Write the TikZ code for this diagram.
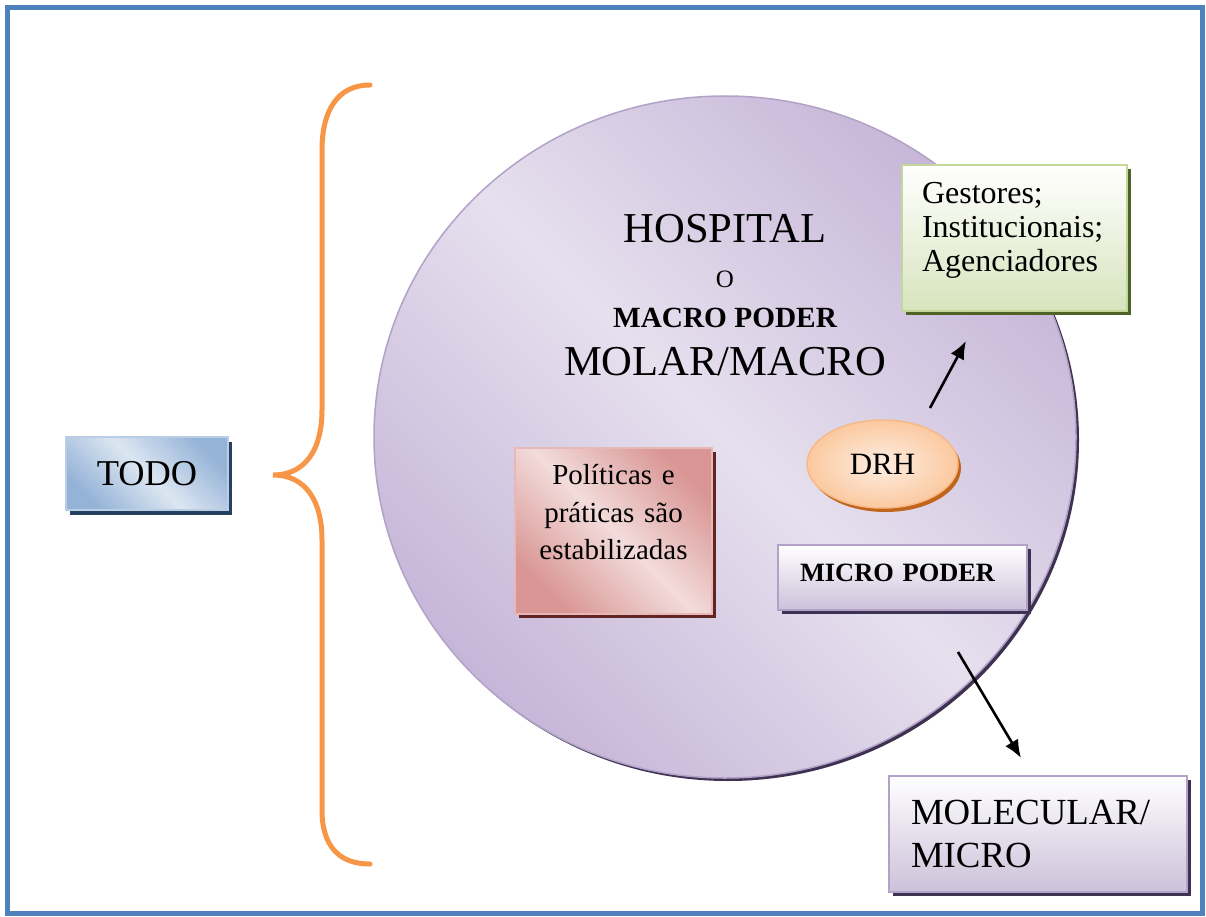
\documentclass[tikz,border=0pt]{standalone}
\usepackage{fontspec}
\setmainfont{Liberation Serif}
\usepackage{xcolor}
\usepackage{tikz}
\usetikzlibrary{shapes,shapes.geometric,shadows}
\usetikzlibrary{calc,arrows,arrows.meta,positioning}
\definecolor{frameblue}{HTML}{4F81BD}
\definecolor{braceor}{HTML}{F79646}
\definecolor{hospdark}{HTML}{C6B6D8}
\definecolor{hosplight}{HTML}{E6E0EE}
\definecolor{hospline}{HTML}{B3A2C7}
\definecolor{purpshad}{HTML}{3F3151}
\definecolor{tododark}{HTML}{95B3D7}
\definecolor{todolight}{HTML}{DCE6F2}
\definecolor{todoline}{HTML}{B9CDE5}
\definecolor{todoshad}{HTML}{254061}
\definecolor{gestfill}{HTML}{D7E4BD}
\definecolor{gestline}{HTML}{C3D69B}
\definecolor{gestshad}{HTML}{4F6228}
\definecolor{drhfill}{HTML}{FBC9A0}
\definecolor{drhlight}{HTML}{FEEEE2}
\definecolor{drhline}{HTML}{F8B986}
\definecolor{drhshad}{HTML}{C0651B}
\definecolor{poldark}{HTML}{D99694}
\definecolor{pollight}{HTML}{F2DCDB}
\definecolor{polline}{HTML}{E6B9B8}
\definecolor{polshad}{HTML}{632523}
\definecolor{microfill}{HTML}{CCC1DA}
\newcommand{\fsz}[2]{\fontsize{#1pt}{#2pt}\selectfont}
\newcommand{\dn}[1]{\rule[-#1pt]{0pt}{0pt}}
\tikzset{
  frame/.style={draw=frameblue, line width=5pt},
  brace/.style={draw=braceor, line width=5pt, line cap=round},
  arr/.style={-{Latex[length=18pt,width=15pt]}, line width=2.6pt},
  sbox/.style={rectangle, inner sep=0pt, line width=2pt},
  hosp_c/.style={ellipse, inner sep=0pt, draw=hospline, line width=1.5pt,
    minimum width=702pt, minimum height=682pt,
    left color=hospdark, right color=hospdark, middle color=hosplight, shading angle=135,
    drop shadow={shadow xshift=3pt, shadow yshift=-3pt, fill=purpshad, opacity=1}},
  todo_n/.style={sbox, draw=todoline, minimum width=162pt, minimum height=73pt,
    left color=tododark, right color=tododark, middle color=todolight, shading angle=135,
    drop shadow={shadow xshift=4pt, shadow yshift=-5pt, fill=todoshad, opacity=1},
    font=\fsz{36.4}{40}},
  gest_n/.style={sbox, draw=gestline, minimum width=225pt, minimum height=146pt,
    text width=185pt, align=left, top color=white, bottom color=gestfill,
    drop shadow={shadow xshift=4pt, shadow yshift=-4pt, fill=gestshad, opacity=1},
    font=\fsz{32}{34}},
  drh_n/.style={ellipse, inner sep=0pt, draw=drhline, line width=1.5pt,
    minimum width=151pt, minimum height=88pt, inner color=drhlight, outer color=drhfill,
    drop shadow={shadow xshift=3pt, shadow yshift=-4pt, fill=drhshad, opacity=1},
    font=\fsz{31}{34}},
  pol_n/.style={sbox, draw=polline, minimum width=197pt, minimum height=166pt,
    text width=197pt, align=center,
    left color=poldark, right color=poldark, middle color=pollight, shading angle=135,
    drop shadow={shadow xshift=4pt, shadow yshift=-4pt, fill=polshad, opacity=1},
    font=\fsz{29}{37.5}},
  micro_n/.style={sbox, draw=hospline, top color=white, bottom color=microfill,
    drop shadow={shadow xshift=4pt, shadow yshift=-4pt, fill=purpshad, opacity=1}},
  lab/.style={inner sep=0pt, anchor=base}
}
\begin{document}
\begin{tikzpicture}[x=1pt,y=-1pt]
\useasboundingbox (0,0) rectangle (1206,917);
\fill[white] (0,0) rectangle (1206,917);
\draw[frame] (7.5,8) rectangle (1202.5,913);
% brace round the whole
\draw[brace] (370,85) .. controls (338,85) and (322,110) .. (322,150) -- (322,410)
  .. controls (322,450) and (305,475) .. (273,475)
  .. controls (305,475) and (322,500) .. (322,540) -- (322,810)
  .. controls (322,845) and (338,864) .. (370,864);
\node[todo_n] (todo) at (147,473.5) {TODO};
% the hospital
\node[hosp_c] (hosp) at (725,437) {};
\node[lab, font=\fsz{42.6}{46}] (hosp_t) at (725,243) {HOSPITAL};
\node[lab, font=\fsz{25}{28}] (o_t) at (725,287) {O};
\node[lab, font=\fsz{29.3}{32}\bfseries] (macro_t) at (725,327) {MACRO PODER};
\node[lab, font=\fsz{42.6}{46}] (molar_t) at (725,375) {MOLAR/MACRO};
\node[gest_n] (gest) at (1014.5,238) {Gestores;\\ Institucionais;\\ Agenciadores\dn{23}};
\node[drh_n] (drh) at (882.5,464) {DRH};
\node[pol_n] (pol) at (613.5,531) {Políticas e\\ práticas são\\ estabilizadas\dn{38}};
\node[micro_n, minimum width=249pt, minimum height=65pt, text width=205pt,
  inner xsep=22pt, align=left, text depth=10pt, font=\fsz{26.4}{30}\bfseries]
  (micro) at (902.5,577.5) {MICRO PODER};
\node[micro_n, minimum width=298pt, minimum height=116pt, text width=254pt,
  inner xsep=22pt, align=left, font=\fsz{36.8}{43}]
  (molec) at (1038,834) {MOLECULAR/\\ MICRO};
% arrows
\coordinate (drh_out) at (930,408);
\coordinate (gest_in) at (966,341);
\coordinate (micro_out) at (958,652);
\coordinate (molec_in) at (1021,758);
\draw[arr] (drh_out) -- (gest_in);
\draw[arr] (micro_out) -- (molec_in);
\end{tikzpicture}
\end{document}
